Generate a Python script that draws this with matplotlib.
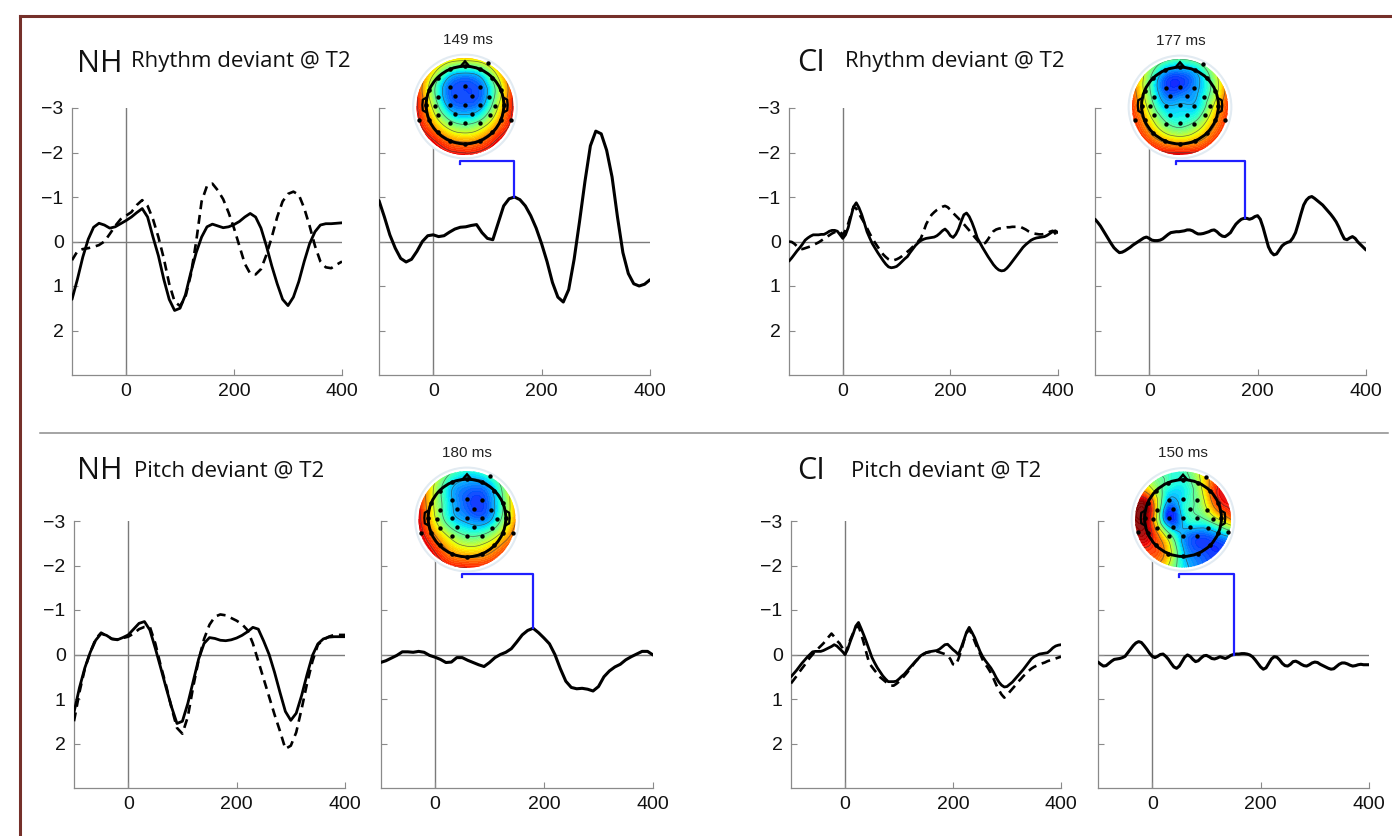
import numpy as np
import matplotlib
matplotlib.use("Agg")
import matplotlib.pyplot as plt
import matplotlib.tri as mtri
from matplotlib.patches import Circle, Polygon
from matplotlib.lines import Line2D

plt.rcParams['font.family'] = ['Liberation Sans', 'DejaVu Sans']

# ---------------- data ----------------
t10 = np.arange(-100, 401, 10)
t5 = np.arange(-100, 401, 5)

# NH rhythm deviant @ T2 (uV, negative up)
nh_rhy_solid = [1.30, 0.85, 0.35, -0.05, -0.32, -0.41, -0.37, -0.30, -0.33, -0.40,
                -0.47, -0.55, -0.65, -0.74, -0.55, -0.10, 0.32, 0.85, 1.30, 1.55,
                1.50, 1.20, 0.70, 0.25, -0.10, -0.33, -0.39, -0.35, -0.31, -0.33,
                -0.38, -0.45, -0.55, -0.63, -0.55, -0.30, 0.10, 0.55, 0.95, 1.30,
                1.44, 1.25, 0.90, 0.45, 0.05, -0.22, -0.37, -0.40, -0.40, -0.41, -0.42]
nh_rhy_dash = [0.42, 0.22, 0.17, 0.15, 0.12, 0.08, 0.00, -0.17, -0.35, -0.50,
               -0.58, -0.66, -0.82, -0.93, -0.80, -0.50, -0.10, 0.38, 0.95, 1.35,
               1.45, 1.25, 0.75, 0.00, -0.90, -1.25, -1.30, -1.15, -0.95, -0.65,
               -0.30, 0.10, 0.50, 0.72, 0.74, 0.62, 0.30, -0.10, -0.55, -0.90,
               -1.07, -1.12, -1.05, -0.75, -0.35, 0.10, 0.45, 0.58, 0.60, 0.52, 0.45]
nh_rhy_diff = [-0.92, -0.55, -0.15, 0.15, 0.38, 0.46, 0.40, 0.22, 0.00, -0.13,
               -0.15, -0.11, -0.13, -0.21, -0.28, -0.32, -0.33, -0.36, -0.38, -0.20,
               -0.07, -0.04, -0.42, -0.80, -0.96, -1.00, -0.94, -0.80, -0.58, -0.30,
               0.05, 0.45, 0.92, 1.25, 1.36, 1.08, 0.40, -0.45, -1.35, -2.15,
               -2.48, -2.42, -2.05, -1.45, -0.55, 0.25, 0.72, 0.95, 1.00, 0.96, 0.86]

# NH pitch deviant @ T2
nh_pit_solid = [1.30, 0.75, 0.30, -0.05, -0.32, -0.47, -0.43, -0.35, -0.33, -0.38,
                -0.44, -0.57, -0.70, -0.74, -0.55, -0.14, 0.30, 0.75, 1.18, 1.55,
                1.50, 1.10, 0.60, 0.10, -0.25, -0.38, -0.36, -0.32, -0.31, -0.33,
                -0.37, -0.43, -0.51, -0.61, -0.57, -0.30, 0.00, 0.40, 0.85, 1.28,
                1.48, 1.32, 0.92, 0.45, 0.02, -0.24, -0.35, -0.39, -0.40, -0.40, -0.40]
nh_pit_dash = [1.50, 0.85, 0.32, -0.05, -0.35, -0.49, -0.42, -0.35, -0.34, -0.37,
               -0.40, -0.47, -0.57, -0.62, -0.62, -0.25, 0.25, 0.70, 1.20, 1.65,
               1.78, 1.40, 0.72, 0.12, -0.35, -0.67, -0.85, -0.90, -0.88, -0.82,
               -0.76, -0.68, -0.55, -0.25, 0.15, 0.55, 0.95, 1.35, 1.72, 2.12,
               2.05, 1.75, 1.22, 0.65, 0.15, -0.22, -0.33, -0.40, -0.44, -0.44, -0.44]
nh_pit_diff = [0.18, 0.14, 0.08, 0.02, -0.06, -0.06, -0.05, -0.07, -0.05, 0.02,
               0.06, 0.11, 0.18, 0.17, 0.07, 0.07, 0.13, 0.18, 0.23, 0.27,
               0.18, 0.07, 0.00, -0.05, -0.13, -0.28, -0.44, -0.54, -0.59, -0.49,
               -0.37, -0.24, 0.00, 0.32, 0.60, 0.74, 0.77, 0.76, 0.78, 0.82,
               0.72, 0.50, 0.37, 0.28, 0.22, 0.12, 0.05, -0.01, -0.07, -0.07, 0.01]

# CI rhythm deviant @ T2 (5 ms steps)
ci_rhy_solid = [0.44, 0.37, 0.29, 0.21, 0.14, 0.06, -0.03, -0.08, -0.12, -0.15,
                -0.15, -0.15, -0.16, -0.16, -0.19, -0.23, -0.25, -0.25, -0.23, -0.15,
                -0.07, -0.15, -0.31, -0.55, -0.78, -0.87, -0.76, -0.61, -0.42, -0.22,
                -0.08, 0.05, 0.15, 0.25, 0.34, 0.43, 0.51, 0.57, 0.59, 0.58,
                0.56, 0.51, 0.45, 0.39, 0.34, 0.25, 0.17, 0.09, 0.03, -0.02,
                -0.05, -0.07, -0.08, -0.09, -0.10, -0.13, -0.18, -0.24, -0.28, -0.22,
                -0.13, -0.09, -0.16, -0.28, -0.45, -0.60, -0.64, -0.56, -0.43, -0.27,
                -0.08, 0.03, 0.14, 0.24, 0.34, 0.43, 0.52, 0.59, 0.64, 0.66,
                0.65, 0.60, 0.53, 0.45, 0.37, 0.29, 0.21, 0.13, 0.07, 0.02,
                -0.03, -0.06, -0.08, -0.09, -0.10, -0.11, -0.14, -0.18, -0.22, -0.24, -0.20]
ci_rhy_dash = [0.00, 0.01, 0.05, 0.11, 0.16, 0.17, 0.15, 0.13, 0.11, 0.08,
               0.05, 0.02, -0.02, -0.06, -0.10, -0.14, -0.18, -0.21, -0.24, -0.22,
               -0.15, -0.25, -0.40, -0.60, -0.78, -0.74, -0.63, -0.52, -0.42, -0.30,
               -0.18, -0.07, 0.03, 0.12, 0.21, 0.29, 0.35, 0.40, 0.43, 0.42,
               0.40, 0.37, 0.33, 0.28, 0.23, 0.18, 0.12, 0.06, 0.00, -0.07,
               -0.22, -0.39, -0.50, -0.60, -0.66, -0.71, -0.75, -0.78, -0.80, -0.77,
               -0.71, -0.64, -0.58, -0.52, -0.45, -0.39, -0.32, -0.25, -0.18, -0.10,
               -0.03, 0.05, 0.06, 0.03, -0.05, -0.15, -0.23, -0.27, -0.29, -0.30,
               -0.31, -0.32, -0.32, -0.33, -0.33, -0.33, -0.33, -0.30, -0.27, -0.23,
               -0.20, -0.18, -0.17, -0.16, -0.16, -0.17, -0.19, -0.22, -0.24, -0.18, -0.05]
ci_rhy_diff = [-0.50, -0.43, -0.35, -0.25, -0.15, -0.05, 0.05, 0.14, 0.20, 0.25,
               0.24, 0.21, 0.17, 0.13, 0.08, 0.04, 0.00, -0.04, -0.08, -0.10,
               -0.07, -0.03, -0.02, -0.02, -0.03, -0.06, -0.11, -0.16, -0.20, -0.21,
               -0.22, -0.22, -0.23, -0.24, -0.26, -0.26, -0.24, -0.20, -0.17, -0.17,
               -0.18, -0.20, -0.22, -0.25, -0.26, -0.22, -0.16, -0.12, -0.11, -0.15,
               -0.20, -0.30, -0.39, -0.45, -0.50, -0.52, -0.52, -0.50, -0.52, -0.56,
               -0.58, -0.50, -0.32, -0.10, 0.12, 0.24, 0.30, 0.28, 0.19, 0.10,
               0.05, 0.02, 0.00, -0.08, -0.20, -0.40, -0.62, -0.82, -0.93, -0.99,
               -1.01, -0.97, -0.92, -0.87, -0.82, -0.75, -0.68, -0.61, -0.53, -0.44,
               -0.32, -0.18, -0.06, -0.04, -0.08, -0.11, -0.07, 0.01, 0.07, 0.13, 0.19]

# CI pitch deviant @ T2 (5 ms steps)
ci_pit_solid = [0.50, 0.43, 0.36, 0.28, 0.20, 0.13, 0.06, 0.00, -0.06, -0.07,
                -0.07, -0.07, -0.09, -0.12, -0.15, -0.18, -0.22, -0.19, -0.13, -0.07,
                0.00, -0.12, -0.30, -0.46, -0.64, -0.72, -0.58, -0.43, -0.27, -0.10,
                0.07, 0.19, 0.30, 0.39, 0.48, 0.55, 0.61, 0.61, 0.61, 0.60,
                0.55, 0.49, 0.44, 0.37, 0.30, 0.23, 0.16, 0.10, 0.03, -0.01,
                -0.04, -0.06, -0.07, -0.08, -0.09, -0.12, -0.17, -0.22, -0.23, -0.17,
                -0.11, -0.06, 0.00, -0.15, -0.32, -0.50, -0.61, -0.50, -0.38, -0.22,
                -0.07, 0.05, 0.14, 0.22, 0.30, 0.40, 0.52, 0.62, 0.69, 0.73,
                0.72, 0.67, 0.62, 0.55, 0.48, 0.41, 0.34, 0.26, 0.18, 0.10,
                0.05, 0.02, -0.01, -0.02, -0.03, -0.04, -0.09, -0.15, -0.19, -0.21, -0.22]
ci_pit_dash = [0.65, 0.57, 0.49, 0.40, 0.32, 0.24, 0.15, 0.07, 0.00, -0.07,
               -0.13, -0.19, -0.25, -0.32, -0.40, -0.47, -0.40, -0.31, -0.25, -0.15,
               0.00, -0.17, -0.34, -0.48, -0.60, -0.64, -0.46, -0.25, -0.02, 0.20,
               0.28, 0.36, 0.43, 0.51, 0.56, 0.61, 0.66, 0.70, 0.70, 0.66,
               0.61, 0.55, 0.48, 0.41, 0.33, 0.25, 0.17, 0.10, 0.05, 0.00,
               -0.04, -0.05, -0.06, -0.07, -0.07, -0.05, -0.03, -0.01, 0.02, 0.10,
               0.22, 0.24, 0.10, -0.08, -0.30, -0.48, -0.56, -0.46, -0.30, -0.15,
               -0.02, 0.12, 0.22, 0.31, 0.41, 0.54, 0.68, 0.80, 0.90, 0.97,
               0.92, 0.84, 0.77, 0.70, 0.62, 0.56, 0.49, 0.43, 0.37, 0.32,
               0.28, 0.25, 0.22, 0.20, 0.18, 0.15, 0.13, 0.11, 0.09, 0.07, 0.05]
ci_pit_diff = [0.17, 0.22, 0.26, 0.25, 0.20, 0.15, 0.11, 0.10, 0.09, 0.07,
               0.04, -0.04, -0.12, -0.20, -0.26, -0.29, -0.27, -0.20, -0.12, -0.03,
               0.04, 0.07, 0.04, 0.00, -0.01, 0.04, 0.11, 0.20, 0.28, 0.31,
               0.26, 0.16, 0.06, 0.01, 0.04, 0.11, 0.16, 0.14, 0.08, 0.03,
               0.02, 0.05, 0.09, 0.10, 0.08, 0.05, 0.07, 0.09, 0.06, 0.02,
               0.00, -0.01, -0.01, -0.02, -0.02, -0.01, 0.01, 0.05, 0.12, 0.20,
               0.28, 0.33, 0.30, 0.20, 0.10, 0.05, 0.06, 0.12, 0.20, 0.25,
               0.26, 0.22, 0.16, 0.15, 0.18, 0.22, 0.25, 0.26, 0.23, 0.19,
               0.17, 0.18, 0.22, 0.25, 0.28, 0.31, 0.33, 0.32, 0.27, 0.22,
               0.19, 0.19, 0.21, 0.24, 0.26, 0.25, 0.23, 0.22, 0.23, 0.23, 0.23]

groups = ["NH", "CI", "NH", "CI"]
conditions = ["Rhythm deviant @ T2", "Rhythm deviant @ T2", "Pitch deviant @ T2", "Pitch deviant @ T2"]
latencies = [149, 177, 180, 150]          # ms, topography latency
latency_labels = ["149 ms", "177 ms", "180 ms", "150 ms"]
yticks = [-3, -2, -1, 0, 1, 2]
xticks = [0, 200, 400]

# topography values (normalised, 0 = blue, 1 = red) on a 7x7 grid, rows top->bottom
topo_nh_rhy = [[0.90, 0.85, 0.72, 0.68, 0.72, 0.85, 0.90],
               [0.88, 0.62, 0.35, 0.28, 0.35, 0.62, 0.88],
               [0.88, 0.50, 0.22, 0.18, 0.22, 0.50, 0.88],
               [0.90, 0.58, 0.28, 0.22, 0.28, 0.58, 0.90],
               [0.92, 0.72, 0.50, 0.42, 0.50, 0.72, 0.92],
               [0.95, 0.88, 0.75, 0.70, 0.75, 0.88, 0.95],
               [1.00, 0.96, 0.92, 0.90, 0.92, 0.96, 1.00]]
topo_ci_rhy = [[0.80, 0.65, 0.50, 0.45, 0.50, 0.65, 0.80],
               [0.80, 0.52, 0.25, 0.20, 0.28, 0.50, 0.80],
               [0.82, 0.50, 0.22, 0.20, 0.28, 0.48, 0.82],
               [0.85, 0.58, 0.33, 0.32, 0.33, 0.58, 0.85],
               [0.88, 0.70, 0.48, 0.40, 0.48, 0.70, 0.88],
               [0.92, 0.82, 0.70, 0.65, 0.70, 0.82, 0.92],
               [1.00, 0.95, 0.92, 0.92, 0.92, 0.95, 1.00]]
topo_nh_pit = [[0.82, 0.68, 0.48, 0.38, 0.42, 0.58, 0.72],
               [0.86, 0.58, 0.32, 0.24, 0.24, 0.42, 0.72],
               [0.90, 0.58, 0.32, 0.20, 0.18, 0.38, 0.72],
               [0.92, 0.62, 0.36, 0.27, 0.24, 0.42, 0.74],
               [0.95, 0.76, 0.56, 0.45, 0.47, 0.62, 0.82],
               [0.97, 0.88, 0.74, 0.68, 0.70, 0.80, 0.88],
               [1.00, 0.95, 0.90, 0.88, 0.88, 0.92, 0.95]]
topo_ci_pit = [[0.70, 0.55, 0.42, 0.42, 0.60, 0.80, 0.85],
               [0.80, 0.60, 0.40, 0.36, 0.55, 0.85, 0.90],
               [0.95, 0.85, 0.28, 0.36, 0.50, 0.80, 0.90],
               [1.00, 0.85, 0.20, 0.32, 0.42, 0.55, 0.75],
               [0.95, 0.90, 0.55, 0.28, 0.20, 0.24, 0.32],
               [0.85, 0.85, 0.70, 0.32, 0.20, 0.16, 0.20],
               [0.80, 0.80, 0.60, 0.36, 0.24, 0.20, 0.24]]

# electrode positions (head units, disk radius = 1)
elec_x = [-0.30, 0.00, 0.30, -0.55, -0.20, 0.15, 0.50, -0.62, -0.30, 0.00, 0.30, 0.62,
          -0.55, -0.20, 0.15, 0.52, -0.30, 0.00, 0.30, 0.48, -0.94, 0.94]
elec_y = [0.40, 0.42, 0.40, 0.20, 0.22, 0.22, 0.20, 0.02, 0.03, 0.04, 0.03, 0.02,
          -0.17, -0.16, -0.16, -0.17, -0.35, -0.34, -0.35, 0.89, -0.27, -0.27]

panels_data = [
    (t10, nh_rhy_solid, nh_rhy_dash, nh_rhy_diff, topo_nh_rhy),
    (t5, ci_rhy_solid, ci_rhy_dash, ci_rhy_diff, topo_ci_rhy),
    (t10, nh_pit_solid, nh_pit_dash, nh_pit_diff, topo_nh_pit),
    (t5, ci_pit_solid, ci_pit_dash, ci_pit_diff, topo_ci_pit),
]
for p in panels_data:
    for arr in p[1:4]:
        assert len(arr) == len(p[0]), (len(arr), len(p[0]))

# ---------------- layout (pixels) ----------------
W, H = 1392, 836
fig = plt.figure(figsize=(W / 100, H / 100), dpi=100)


def rect(x0, x1, ytop, ybot):
    return [x0 / W, 1 - ybot / H, (x1 - x0) / W, (ybot - ytop) / H]


def fx(x):
    return x / W


def fy(y):
    return 1 - y / H


rows = [(108, 375), (108, 375), (521, 788), (521, 788)]
left_x = [(72, 342), (789, 1058), (74, 345), (791, 1061)]
right_x = [(379, 650), (1095, 1366), (380.5, 653), (1098, 1369)]
topo_centres = [(465, 106.5, 48.5), (1180, 107, 48), (467, 519.5, 48.5), (1183, 519.5, 48)]
label_pos = [(468, 40), (1181, 41), (466.5, 453), (1183, 453)]
group_pos = [((77, 72), (131, 67)), ((797, 71), (845, 67)),
             ((77, 479), (134, 476)), ((797, 479), (851, 476))]

AX_GREY = '#8a8a8a'
LINE_GREY = '#7a7a7a'
BLUE = '#1f1fff'


def style_axes(ax, labels):
    ax.set_xlim(-100, 400)
    ax.set_ylim(3, -3)
    for s in ('top', 'right'):
        ax.spines[s].set_visible(False)
    for s in ('left', 'bottom'):
        ax.spines[s].set_color(AX_GREY)
        ax.spines[s].set_linewidth(0.9)
    ax.set_xticks(xticks)
    ax.set_yticks(yticks)
    ax.tick_params(direction='in', length=4, width=0.8, color=AX_GREY,
                   labelsize=14, pad=6, labelcolor='#111111')
    if not labels:
        ax.set_yticklabels([])
    ax.axhline(0, color=LINE_GREY, lw=1.0, zorder=1)
    ax.axvline(0, color=LINE_GREY, lw=1.0, zorder=1)
    ax.patch.set_alpha(0)


def draw_topo(cx, cy, r, vals):
    size = 2.3 * r
    ax = fig.add_axes([fx(cx - size / 2), fy(cy + size / 2), size / W, size / H])
    ax.set_xlim(-1.15, 1.15)
    ax.set_ylim(-1.15, 1.15)
    ax.set_aspect('equal')
    ax.axis('off')
    ax.patch.set_alpha(0)
    ax.add_patch(Circle((0, 0), 1.07, fc='white', ec='#e2ebf2', lw=1.5, zorder=0))
    g = np.linspace(-1, 1, 7)
    X, Y = np.meshgrid(g, g[::-1])
    tri = mtri.Triangulation(X.ravel(), Y.ravel())
    refiner = mtri.UniformTriRefiner(tri)
    tri_r, z_r = refiner.refine_field(np.asarray(vals, float).ravel(), subdiv=4)
    clip = Circle((0, 0), 1.0, transform=ax.transData)
    cf = ax.tricontourf(tri_r, z_r, levels=np.linspace(-0.3, 1.3, 81), cmap='jet',
                        vmin=0.0, vmax=1.0, zorder=1, alpha=0.92, antialiased=False)
    cf.set_clip_path(clip)
    cl = ax.tricontour(tri_r, z_r, levels=[0.3, 0.45, 0.6, 0.75, 0.88], colors='#404040',
                       linewidths=0.5, alpha=0.75, zorder=2)
    cl.set_clip_path(clip)
    # head outline
    ax.add_patch(Circle((0, 0.03), 0.8, fc='none', ec='black', lw=2.1, zorder=3))
    ax.add_patch(Polygon([(-0.1, 0.815), (0, 0.93), (0.1, 0.815)], closed=False,
                         fc='none', ec='black', lw=1.8, zorder=3))
    for sgn in (-1, 1):
        ax.add_line(Line2D([sgn * 0.8, sgn * 0.87, sgn * 0.88, sgn * 0.87, sgn * 0.8],
                           [0.18, 0.14, 0.03, -0.08, -0.12], color='black', lw=1.6, zorder=3))
    ang = np.deg2rad(np.arange(0, 360, 22.5))
    ax.scatter(0.8 * np.cos(ang), 0.03 + 0.8 * np.sin(ang), s=11, c='black', zorder=4,
               linewidths=0)
    ax.scatter(elec_x, elec_y, s=10, c='black', zorder=4, linewidths=0)


for i in range(4):
    t, solid, dash, diff, topo = panels_data[i]
    ytop, ybot = rows[i]
    # left panel: standard vs deviant
    axl = fig.add_axes(rect(left_x[i][0], left_x[i][1], ytop, ybot))
    style_axes(axl, True)
    axl.plot(t, solid, color='black', lw=2.0, zorder=3, solid_capstyle='round',
             solid_joinstyle='round')
    axl.plot(t, dash, color='black', lw=1.9, ls=(0, (3.4, 2.2)), zorder=3)
    # right panel: difference wave
    axr = fig.add_axes(rect(right_x[i][0], right_x[i][1], ytop, ybot))
    style_axes(axr, False)
    axr.plot(t, diff, color='black', lw=2.2, zorder=3, solid_capstyle='round',
             solid_joinstyle='round')
    lat = latencies[i]
    peak = np.interp(lat, t, diff)
    axr.plot([50, 50, lat, lat], [-1.75, -1.82, -1.82, peak], color=BLUE, lw=1.6,
             zorder=4, clip_on=False)
    # topography
    cx, cy, r = topo_centres[i]
    draw_topo(cx, cy, r, topo)
    fig.text(fx(label_pos[i][0]), fy(label_pos[i][1]), latency_labels[i],
             ha='center', va='center', fontsize=11, color='#222222')
    (gx, gy), (tx, ty) = group_pos[i]
    fig.text(fx(gx), fy(gy), groups[i], ha='left', va='baseline', fontsize=22,
             family=['Open Sans', 'DejaVu Sans'], color='#111111')
    fig.text(fx(tx), fy(ty), conditions[i], ha='left', va='baseline', fontsize=16,
             family=['Open Sans', 'DejaVu Sans'], color='#111111')

# frame and separator
BROWN = '#75302a'
fig.add_artist(Line2D([fx(20), 1.0], [fy(16), fy(16)], color=BROWN, lw=2.2))
fig.add_artist(Line2D([fx(20), fx(20)], [fy(16), 0.0], color=BROWN, lw=2.2))
fig.add_artist(Line2D([fx(40), fx(1388)], [fy(433), fy(433)], color='#8c8c8c', lw=1.1))

fig.savefig('out.png', dpi=100, facecolor='white')
